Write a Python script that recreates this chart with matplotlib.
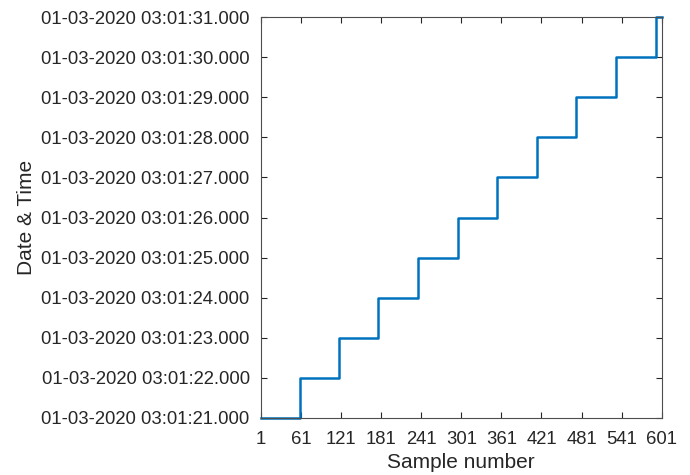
import matplotlib
matplotlib.use("Agg")
from matplotlib import pyplot as plt

# sample number at which each new second starts, and that second (03:01:ss)
step_start = [1, 59, 118, 177, 236, 296, 355, 414, 473, 532, 592]
step_second = [21, 22, 23, 24, 25, 26, 27, 28, 29, 30, 31]
last_sample = 601

x_ticks = [1, 61, 121, 181, 241, 301, 361, 421, 481, 541, 601]
y_ticks = [21, 22, 23, 24, 25, 26, 27, 28, 29, 30, 31]
y_tick_labels = [f"01-03-2020 03:01:{s:02d}.000" for s in y_ticks]

plt.rcParams["font.family"] = ["Liberation Sans", "DejaVu Sans"]

fig = plt.figure(figsize=(6.9, 4.75), dpi=100)
ax = fig.add_axes([0.378, 0.12, 0.581, 0.844])

ax.step(
    step_start + [last_sample],
    step_second + [step_second[-1]],
    where="post",
    color="#0072BD",
    linewidth=1.8,
    clip_on=False,
)

ax.set_xlim(1, 601)
ax.set_ylim(21, 31)
ax.set_xticks(x_ticks)
ax.set_yticks(y_ticks)
ax.set_yticklabels(y_tick_labels)

axis_color = "#262626"
for side in ["top", "bottom", "left", "right"]:
    ax.spines[side].set_color("#4d4d4d")
    ax.spines[side].set_linewidth(0.8)

ax.tick_params(
    axis="both", direction="in", length=4, width=0.8,
    top=True, right=True, colors=axis_color, labelsize=13.3,
)
ax.tick_params(axis="y", pad=8)
ax.tick_params(axis="x", pad=9)

ax.set_xlabel("Sample number", fontsize=15, color=axis_color, labelpad=4)
ax.set_ylabel("Date & Time", fontsize=15, color=axis_color, labelpad=4)

fig.savefig("out.png", dpi=100)
